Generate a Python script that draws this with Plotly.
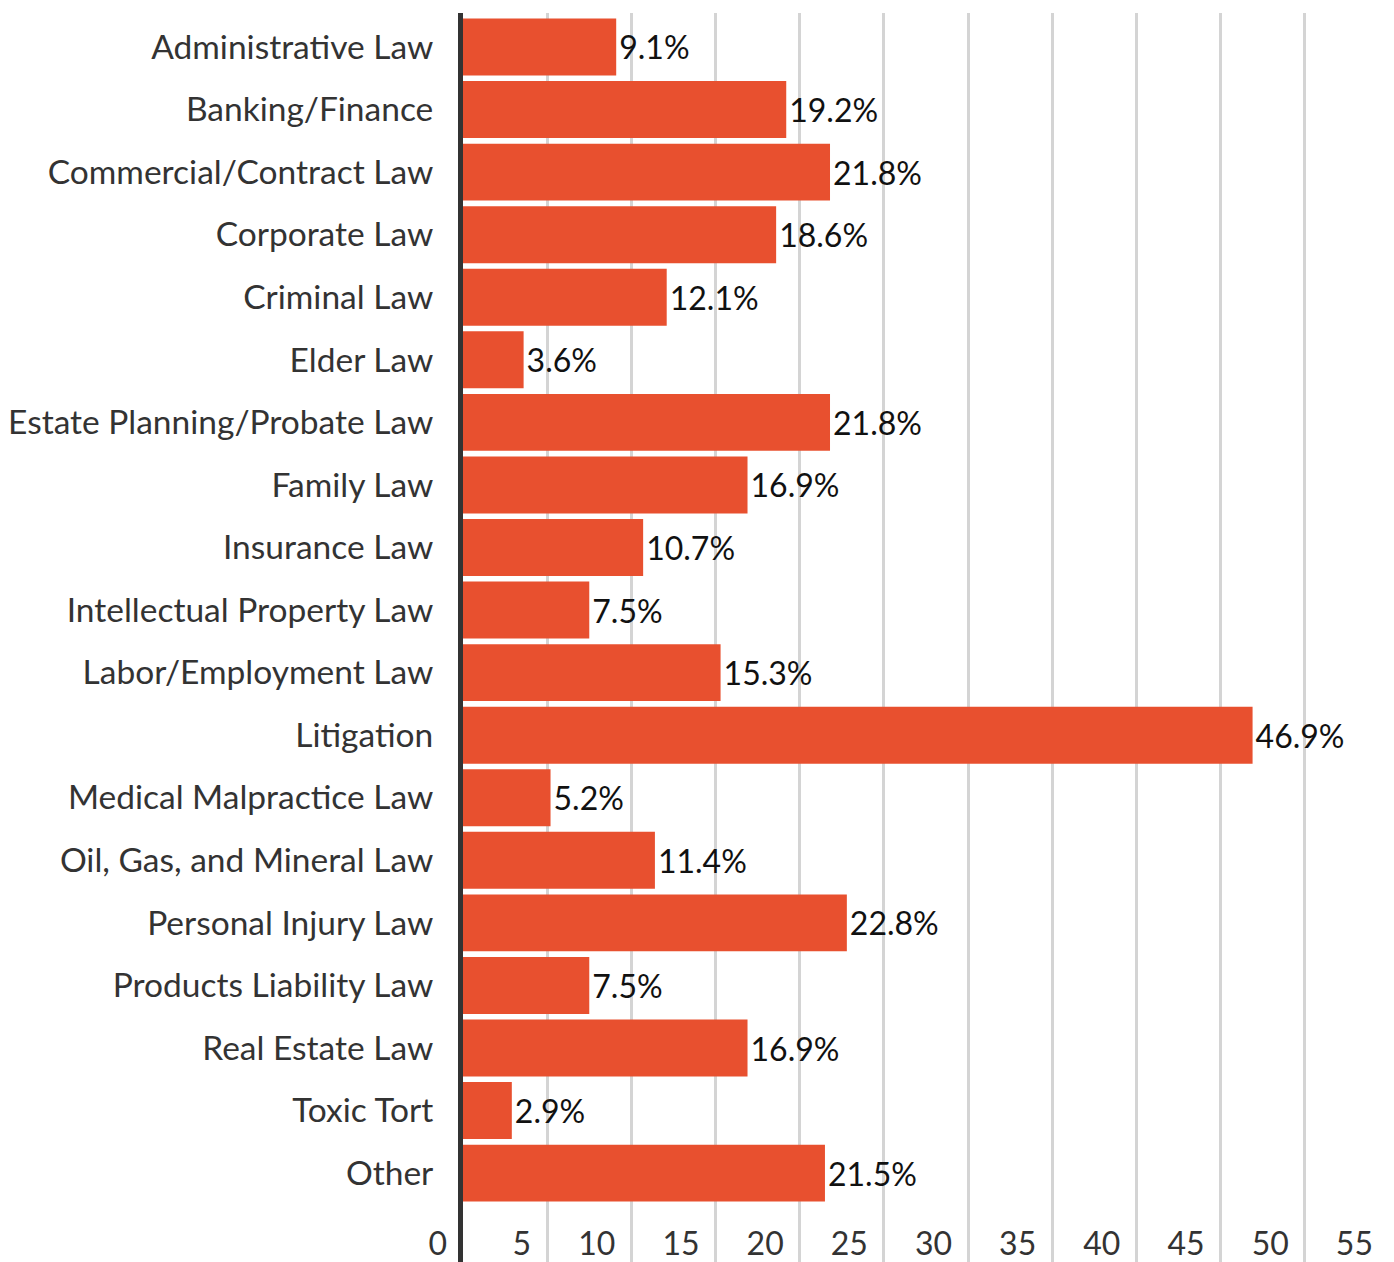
import plotly.graph_objects as go

categories = ["Administrative Law", "Banking/Finance", "Commercial/Contract Law", "Corporate Law",
              "Criminal Law", "Elder Law", "Estate Planning/Probate Law", "Family Law",
              "Insurance Law", "Intellectual Property Law", "Labor/Employment Law", "Litigation",
              "Medical Malpractice Law", "Oil, Gas, and Mineral Law", "Personal Injury Law",
              "Products Liability Law", "Real Estate Law", "Toxic Tort", "Other"]
values = [9.1, 19.2, 21.8, 18.6, 12.1, 3.6, 21.8, 16.9, 10.7, 7.5, 15.3, 46.9, 5.2, 11.4,
          22.8, 7.5, 16.9, 2.9, 21.5]
x_ticks = [0, 5, 10, 15, 20, 25, 30, 35, 40, 45, 50, 55]

FONT = "Lato"

fig = go.Figure(go.Bar(
    x=values, y=categories, orientation="h",
    marker=dict(color="#E8502F", line=dict(width=0)),
    text=[f"{v}%" for v in values], textposition="outside",
    textfont=dict(family=FONT, size=32, color="#111111"),
    cliponaxis=False, width=0.91,
))

fig.update_layout(
    width=1386, height=1254,
    margin=dict(l=455, r=0, t=5, b=0, autoexpand=False),
    paper_bgcolor="white", plot_bgcolor="white",
    showlegend=False,
    font=dict(family=FONT, size=32, color="#333333"),
    xaxis=dict(range=[0, 55.3], tickvals=x_ticks, ticktext=[str(t) for t in x_ticks],
               showgrid=True, gridcolor="#D4D4D4", gridwidth=2.8, zeroline=False,
               showline=False, ticks="", ticklabelposition="inside left",
               ticklabeloverflow="allow", ticklabelshift=-16, ticklabelstandoff=-5,
               automargin=False, tickfont=dict(size=32, color="#333333")),
    yaxis=dict(categoryorder="array", categoryarray=categories, range=[19.42, -0.543],
               showgrid=False, zeroline=False, showline=True, linecolor="#333333",
               linewidth=5, ticks="", ticklabelstandoff=18, automargin=False,
               tickfont=dict(size=33.5, color="#333333")),
)

fig.write_html("out.html")
